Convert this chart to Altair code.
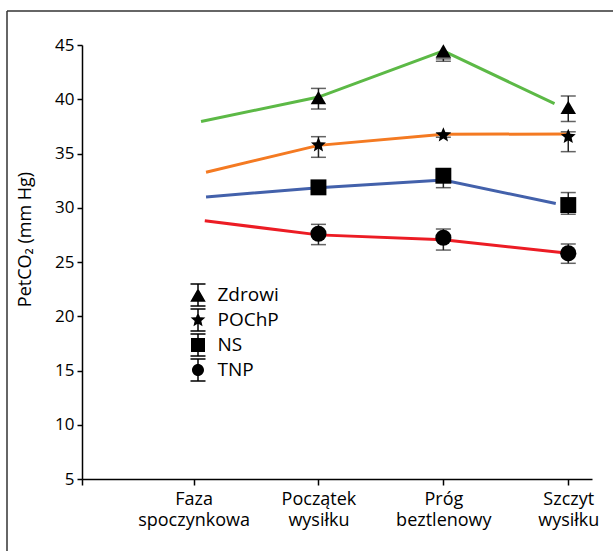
import math
import altair as alt
import pandas as pd

# ---------------- data ----------------
stages = ["Faza spoczynkowa", "Początek wysiłku", "Próg beztlenowy", "Szczyt wysiłku"]
stage_pos = [1, 2, 3, 4]
groups = ["Zdrowi", "POChP", "NS", "TNP"]
colors = ["#5cb946", "#f47a22", "#4361ab", "#ec1c24"]

# markers with error bars (stages 2-4)
marker_pos = [2, 3, 4]
zdrowi_mean = [40.15, 44.45, 39.25]
zdrowi_lo = [39.1, 43.5, 37.95]
zdrowi_hi = [41.0, 43.72, 40.3]
pochp_mean = [35.78, 36.7, 36.55]
pochp_lo = [34.65, 36.5, 35.17]
pochp_hi = [36.55, 36.9, 37.0]
ns_mean = [31.88, 32.95, 30.25]
ns_lo = [31.45, 31.85, 29.4]
ns_hi = [32.3, 33.6, 31.4]
tnp_mean = [27.6, 27.24, 25.8]
tnp_lo = [26.6, 26.1, 24.88]
tnp_hi = [28.47, 28.04, 26.66]

# trend lines
zdrowi_line_x = [1.06, 2, 3, 3.89]
zdrowi_line_y = [37.95, 40.2, 44.45, 39.6]
pochp_line_x = [1.1, 2, 3, 4.0]
pochp_line_y = [33.27, 35.75, 36.77, 36.8]
ns_line_x = [1.1, 2, 3, 3.9]
ns_line_y = [31.0, 31.85, 32.55, 30.4]
tnp_line_x = [1.09, 2, 3, 4.0]
tnp_line_y = [28.8, 27.5, 27.05, 25.8]

y_ticks = [5, 10, 15, 20, 25, 30, 35, 40, 45]
x_min, x_max = 0.107, 4.19

# ---------------- tables ----------------
mrows = []
for g, m, lo, hi in zip(groups,
                        [zdrowi_mean, pochp_mean, ns_mean, tnp_mean],
                        [zdrowi_lo, pochp_lo, ns_lo, tnp_lo],
                        [zdrowi_hi, pochp_hi, ns_hi, tnp_hi]):
    for x, a, b, c in zip(marker_pos, m, lo, hi):
        mrows.append({"group": g, "x": x, "mean": a, "lo": b, "hi": c})
markers = pd.DataFrame(mrows)

lrows = []
for g, xs, ys in zip(groups,
                     [zdrowi_line_x, pochp_line_x, ns_line_x, tnp_line_x],
                     [zdrowi_line_y, pochp_line_y, ns_line_y, tnp_line_y]):
    for i, (x, y) in enumerate(zip(xs, ys)):
        lrows.append({"group": g, "x": x, "y": y, "i": i})
lines = pd.DataFrame(lrows)


# ---------------- shapes ----------------
def star(R, r):
    pts = []
    for k in range(10):
        a = math.radians(-90 + 36 * k)
        rad = R if k % 2 == 0 else r
        pts.append(f"{rad * math.cos(a):.3f},{rad * math.sin(a):.3f}")
    return "M" + "L".join(pts) + "Z"


# I-beam built from thin filled rectangles (fill only, no stroke needed)
ibeam = ("M-0.6,-0.94L0.6,-0.94L0.6,-0.82L-0.6,-0.82Z"
         "M-0.06,-0.88L0.06,-0.88L0.06,0.88L-0.06,0.88Z"
         "M-0.6,0.82L0.6,0.82L0.6,0.94L-0.6,0.94Z")
legend_shapes = [
    "M0,-0.54L0.62,0.54L-0.62,0.54Z" + ibeam,
    star(0.62, 0.28) + ibeam,
    "M-0.56,-0.56L0.56,-0.56L0.56,0.56L-0.56,0.56Z" + ibeam,
    "M0.48,0A0.48,0.48 0 1,1 -0.48,0A0.48,0.48 0 1,1 0.48,0Z" + ibeam,
]
point_shapes = ["triangle-up", star(1, 0.45), "square", "circle"]
point_sizes = [240, 260, 225, 140]

FONT = "Open Sans"

stage_words = [s.split(" ") for s in stages]
label_expr = "".join(
    f"datum.value == {p} ? ['{w[0]}', '{w[1]}'] : " for p, w in zip(stage_pos, stage_words)
) + "''"

x_enc = alt.X("x:Q",
              scale=alt.Scale(domain=[x_min, x_max], nice=False, zero=False),
              axis=alt.Axis(values=[x_min] + stage_pos, labelExpr=label_expr, title=None,
                            tickSize=6, labelPadding=5, labelLineHeight=21, labelFontSize=18,
                            labelFlush=False, labelOverlap=False, labelBound=False,
                            labelAngle=0, grid=False))
y_scale = alt.Scale(domain=[5, 45], nice=False, zero=False)

base_m = alt.Chart(markers)

line_layer = alt.Chart(lines).mark_line(strokeWidth=3).encode(
    x=x_enc,
    y=alt.Y("y:Q", scale=y_scale,
            axis=alt.Axis(values=y_ticks, title="PetCO₂ (mm Hg)", tickSize=5,
                          labelPadding=3, grid=False, titleX=-57, titleY=194,
                          titleFontSize=18,
                          titleAngle=270, titleAlign="center", titleBaseline="middle")),
    color=alt.Color("group:N", scale=alt.Scale(domain=groups, range=colors), legend=None),
    order="i:Q",
)

rule_layer = base_m.mark_rule(color="#222", strokeWidth=1.5).encode(
    x="x:Q", y="lo:Q", y2="hi:Q")
cap_lo = base_m.mark_tick(color="#222", thickness=1.5, size=15, orient="horizontal").encode(
    x="x:Q", y="lo:Q")
cap_hi = base_m.mark_tick(color="#222", thickness=1.5, size=15, orient="horizontal").encode(
    x="x:Q", y="hi:Q")

point_layer = base_m.mark_point(filled=True, opacity=1, color="black").encode(
    x="x:Q",
    y="mean:Q",
    shape=alt.Shape("group:N", scale=alt.Scale(domain=groups, range=point_shapes), legend=None),
    size=alt.Size("group:N", scale=alt.Scale(domain=groups, range=point_sizes), legend=None),
)

legend_layer = base_m.transform_filter("false").mark_point(
    filled=True, color="black", opacity=1
).encode(
    x="x:Q",
    y="mean:Q",
    shape=alt.Shape("group:N",
                    scale=alt.Scale(domain=groups, range=legend_shapes),
                    legend=alt.Legend(orient="none", legendX=103.5, legendY=237.5, title=None,
                                      symbolSize=625, rowPadding=0, padding=0, clipHeight=25,
                                      labelFont=FONT, labelFontSize=19, labelColor="black",
                                      labelOffset=7, symbolFillColor="black",
                                      symbolStrokeWidth=0, symbolOpacity=1)),
)

frame_top = alt.Chart(alt.Data(values=[{}])).mark_rule(color="#333", strokeWidth=1.5).encode(
    x=alt.value(-75), x2=alt.value(540), y=alt.value(-34))
frame_left = alt.Chart(alt.Data(values=[{}])).mark_rule(color="#333", strokeWidth=1.5).encode(
    x=alt.value(-75), y=alt.value(-34), y2=alt.value(520))

chart = alt.layer(
    frame_top, frame_left, line_layer, rule_layer, cap_lo, cap_hi, point_layer, legend_layer
).resolve_scale(shape="independent", size="independent").properties(
    width=510, height=434,
    padding={"left": 82, "top": 45, "right": 21, "bottom": 72},
    autosize=alt.AutoSizeParams(type="none"),
    background="white",
).configure_view(stroke=None).configure_axis(
    labelFont=FONT, titleFont=FONT, labelFontSize=17, titleFontSize=17,
    labelColor="black", titleColor="black", titleFontWeight="normal",
    domainColor="black", tickColor="black", domainWidth=1.5, tickWidth=1.5,
)

chart.save("out.html", embed_options={"renderer": "svg", "actions": False})
